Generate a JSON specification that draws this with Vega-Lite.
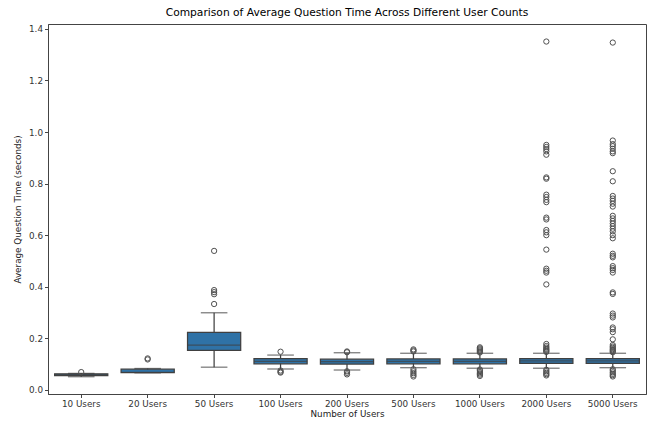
{
  "$schema": "https://vega.github.io/schema/vega-lite/v6.json",
  "width": 598,
  "height": 370,
  "autosize": {"type": "none"},
  "padding": {"left": 48, "top": 24, "right": 1, "bottom": 30},
  "background": "white",
  "title": {"text": "Comparison of Average Question Time Across Different User Counts", "font": "DejaVu Sans", "fontSize": 10.7, "fontWeight": "normal", "color": "#000000", "offset": 5},
  "config": {
    "view": {"stroke": "#444444", "strokeWidth": 1},
    "axis": {"labelFont": "DejaVu Sans", "titleFont": "DejaVu Sans", "labelFontSize": 8.8, "titleFontSize": 8.8, "titleFontWeight": "normal", "labelColor": "#333333", "titleColor": "#222222", "domainColor": "#444444", "tickColor": "#444444", "tickSize": 3.5, "grid": false}
  },
  "datasets": {
    "stats": [
      {"group": "10 Users", "lower": 0.051, "q1": 0.055, "median": 0.060, "q3": 0.062, "upper": 0.064},
      {"group": "20 Users", "lower": 0.066, "q1": 0.067, "median": 0.068, "q3": 0.080, "upper": 0.083},
      {"group": "50 Users", "lower": 0.088, "q1": 0.153, "median": 0.174, "q3": 0.223, "upper": 0.299},
      {"group": "100 Users", "lower": 0.081, "q1": 0.101, "median": 0.111, "q3": 0.121, "upper": 0.135},
      {"group": "200 Users", "lower": 0.077, "q1": 0.100, "median": 0.110, "q3": 0.119, "upper": 0.144},
      {"group": "500 Users", "lower": 0.086, "q1": 0.101, "median": 0.111, "q3": 0.120, "upper": 0.142},
      {"group": "1000 Users", "lower": 0.084, "q1": 0.101, "median": 0.111, "q3": 0.120, "upper": 0.142},
      {"group": "2000 Users", "lower": 0.084, "q1": 0.103, "median": 0.112, "q3": 0.121, "upper": 0.142},
      {"group": "5000 Users", "lower": 0.086, "q1": 0.103, "median": 0.112, "q3": 0.121, "upper": 0.142}
    ],
    "outliers": [
      {"group": "10 Users", "value": 0.069},
      {"group": "20 Users", "value": 0.118},
      {"group": "20 Users", "value": 0.122},
      {"group": "50 Users", "value": 0.333},
      {"group": "50 Users", "value": 0.371},
      {"group": "50 Users", "value": 0.379},
      {"group": "50 Users", "value": 0.387},
      {"group": "50 Users", "value": 0.539},
      {"group": "100 Users", "value": 0.148},
      {"group": "100 Users", "value": 0.075},
      {"group": "100 Users", "value": 0.070},
      {"group": "100 Users", "value": 0.067},
      {"group": "200 Users", "value": 0.149},
      {"group": "200 Users", "value": 0.146},
      {"group": "200 Users", "value": 0.072},
      {"group": "200 Users", "value": 0.066},
      {"group": "200 Users", "value": 0.060},
      {"group": "500 Users", "value": 0.157},
      {"group": "500 Users", "value": 0.153},
      {"group": "500 Users", "value": 0.149},
      {"group": "500 Users", "value": 0.080},
      {"group": "500 Users", "value": 0.072},
      {"group": "500 Users", "value": 0.065},
      {"group": "500 Users", "value": 0.058},
      {"group": "500 Users", "value": 0.052},
      {"group": "1000 Users", "value": 0.165},
      {"group": "1000 Users", "value": 0.161},
      {"group": "1000 Users", "value": 0.157},
      {"group": "1000 Users", "value": 0.153},
      {"group": "1000 Users", "value": 0.149},
      {"group": "1000 Users", "value": 0.145},
      {"group": "1000 Users", "value": 0.079},
      {"group": "1000 Users", "value": 0.074},
      {"group": "1000 Users", "value": 0.069},
      {"group": "1000 Users", "value": 0.064},
      {"group": "1000 Users", "value": 0.059},
      {"group": "1000 Users", "value": 0.054},
      {"group": "2000 Users", "value": 1.351},
      {"group": "2000 Users", "value": 0.950},
      {"group": "2000 Users", "value": 0.942},
      {"group": "2000 Users", "value": 0.934},
      {"group": "2000 Users", "value": 0.925},
      {"group": "2000 Users", "value": 0.912},
      {"group": "2000 Users", "value": 0.824},
      {"group": "2000 Users", "value": 0.819},
      {"group": "2000 Users", "value": 0.757},
      {"group": "2000 Users", "value": 0.748},
      {"group": "2000 Users", "value": 0.737},
      {"group": "2000 Users", "value": 0.728},
      {"group": "2000 Users", "value": 0.668},
      {"group": "2000 Users", "value": 0.661},
      {"group": "2000 Users", "value": 0.620},
      {"group": "2000 Users", "value": 0.611},
      {"group": "2000 Users", "value": 0.600},
      {"group": "2000 Users", "value": 0.544},
      {"group": "2000 Users", "value": 0.470},
      {"group": "2000 Users", "value": 0.462},
      {"group": "2000 Users", "value": 0.455},
      {"group": "2000 Users", "value": 0.409},
      {"group": "2000 Users", "value": 0.178},
      {"group": "2000 Users", "value": 0.170},
      {"group": "2000 Users", "value": 0.164},
      {"group": "2000 Users", "value": 0.159},
      {"group": "2000 Users", "value": 0.155},
      {"group": "2000 Users", "value": 0.151},
      {"group": "2000 Users", "value": 0.147},
      {"group": "2000 Users", "value": 0.078},
      {"group": "2000 Users", "value": 0.072},
      {"group": "2000 Users", "value": 0.066},
      {"group": "2000 Users", "value": 0.061},
      {"group": "2000 Users", "value": 0.056},
      {"group": "5000 Users", "value": 1.347},
      {"group": "5000 Users", "value": 0.967},
      {"group": "5000 Users", "value": 0.953},
      {"group": "5000 Users", "value": 0.945},
      {"group": "5000 Users", "value": 0.935},
      {"group": "5000 Users", "value": 0.925},
      {"group": "5000 Users", "value": 0.918},
      {"group": "5000 Users", "value": 0.848},
      {"group": "5000 Users", "value": 0.809},
      {"group": "5000 Users", "value": 0.752},
      {"group": "5000 Users", "value": 0.742},
      {"group": "5000 Users", "value": 0.733},
      {"group": "5000 Users", "value": 0.722},
      {"group": "5000 Users", "value": 0.711},
      {"group": "5000 Users", "value": 0.675},
      {"group": "5000 Users", "value": 0.665},
      {"group": "5000 Users", "value": 0.655},
      {"group": "5000 Users", "value": 0.645},
      {"group": "5000 Users", "value": 0.635},
      {"group": "5000 Users", "value": 0.625},
      {"group": "5000 Users", "value": 0.615},
      {"group": "5000 Users", "value": 0.600},
      {"group": "5000 Users", "value": 0.588},
      {"group": "5000 Users", "value": 0.528},
      {"group": "5000 Users", "value": 0.520},
      {"group": "5000 Users", "value": 0.514},
      {"group": "5000 Users", "value": 0.480},
      {"group": "5000 Users", "value": 0.472},
      {"group": "5000 Users", "value": 0.465},
      {"group": "5000 Users", "value": 0.455},
      {"group": "5000 Users", "value": 0.378},
      {"group": "5000 Users", "value": 0.372},
      {"group": "5000 Users", "value": 0.296},
      {"group": "5000 Users", "value": 0.288},
      {"group": "5000 Users", "value": 0.281},
      {"group": "5000 Users", "value": 0.242},
      {"group": "5000 Users", "value": 0.235},
      {"group": "5000 Users", "value": 0.224},
      {"group": "5000 Users", "value": 0.196},
      {"group": "5000 Users", "value": 0.174},
      {"group": "5000 Users", "value": 0.168},
      {"group": "5000 Users", "value": 0.163},
      {"group": "5000 Users", "value": 0.158},
      {"group": "5000 Users", "value": 0.154},
      {"group": "5000 Users", "value": 0.150},
      {"group": "5000 Users", "value": 0.146},
      {"group": "5000 Users", "value": 0.080},
      {"group": "5000 Users", "value": 0.074},
      {"group": "5000 Users", "value": 0.068},
      {"group": "5000 Users", "value": 0.062},
      {"group": "5000 Users", "value": 0.057},
      {"group": "5000 Users", "value": 0.052}
    ]
  },
  "encoding": {
    "x": {
      "field": "group", "type": "nominal",
      "sort": ["10 Users", "20 Users", "50 Users", "100 Users", "200 Users", "500 Users", "1000 Users", "2000 Users", "5000 Users"],
      "scale": {"paddingInner": 0, "paddingOuter": 0},
      "axis": {"title": "Number of Users", "labelAngle": 0, "titlePadding": 1, "labelPadding": 2}
    }
  },
  "layer": [
    {
      "data": {"name": "stats"},
      "mark": {"type": "rule", "color": "#404040", "strokeWidth": 1.25},
      "encoding": {
        "y": {"field": "lower", "type": "quantitative", "scale": {"domain": [-0.016, 1.419], "nice": false, "zero": false}, "axis": {"title": "Average Question Time (seconds)", "values": [0, 0.2, 0.4, 0.6, 0.8, 1.0, 1.2, 1.4], "format": ".1f", "titlePadding": 6, "labelPadding": 2}},
        "y2": {"field": "upper"}
      }
    },
    {
      "data": {"name": "stats"},
      "mark": {"type": "tick", "color": "#404040", "thickness": 1.25, "size": 26.6},
      "encoding": {"y": {"field": "lower", "type": "quantitative"}}
    },
    {
      "data": {"name": "stats"},
      "mark": {"type": "tick", "color": "#404040", "thickness": 1.25, "size": 26.6},
      "encoding": {"y": {"field": "upper", "type": "quantitative"}}
    },
    {
      "data": {"name": "stats"},
      "mark": {"type": "bar", "fill": "#2f72a6", "stroke": "#404040", "strokeWidth": 1.25, "width": {"band": 0.8}},
      "encoding": {"y": {"field": "q1", "type": "quantitative"}, "y2": {"field": "q3"}}
    },
    {
      "data": {"name": "stats"},
      "mark": {"type": "tick", "color": "#404040", "thickness": 1.25, "size": 53},
      "encoding": {"y": {"field": "median", "type": "quantitative"}}
    },
    {
      "data": {"name": "outliers"},
      "mark": {"type": "point", "shape": "circle", "filled": false, "stroke": "#505050", "strokeWidth": 1, "size": 28, "opacity": 1},
      "encoding": {"y": {"field": "value", "type": "quantitative"}}
    }
  ]
}
